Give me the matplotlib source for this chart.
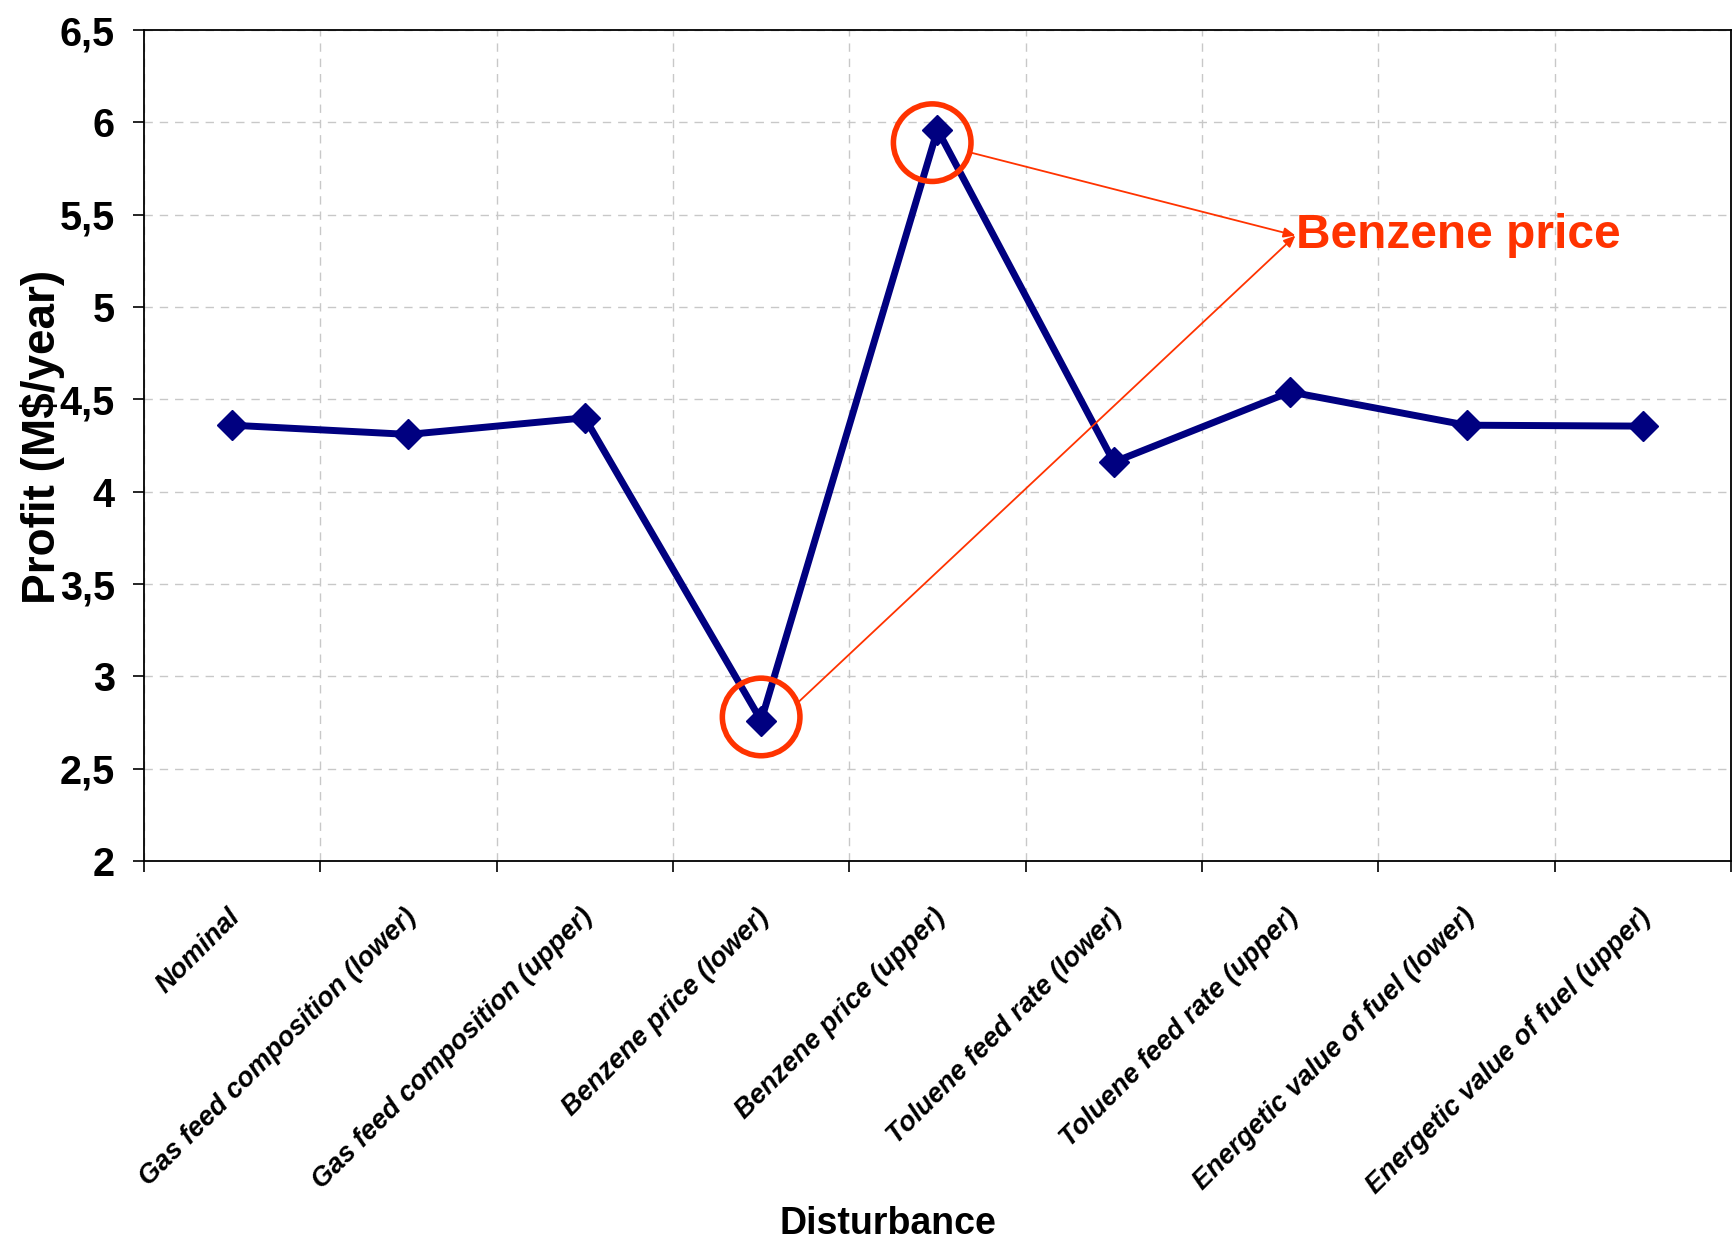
import matplotlib
matplotlib.use("Agg")
import matplotlib.pyplot as plt
import matplotlib.transforms as mtransforms
from matplotlib.patches import Ellipse
from matplotlib.ticker import FixedLocator, FuncFormatter

categories = ["Nominal", "Gas feed composition (lower)", "Gas feed composition (upper)",
              "Benzene price (lower)", "Benzene price (upper)", "Toluene feed rate (lower)",
              "Toluene feed rate (upper)", "Energetic value of fuel (lower)",
              "Energetic value of fuel (upper)"]
profit = [4.36, 4.31, 4.40, 2.76, 5.96, 4.16, 4.54, 4.36, 4.355]
y_ticks = [2, 2.5, 3, 3.5, 4, 4.5, 5, 5.5, 6, 6.5]
highlight_idx = [3, 4]
annotation_text = "Benzene price"

NAVY = "#000080"
RED = "#FF3300"
FONT = "Liberation Sans"

fig = plt.figure(figsize=(17.34, 12.46), dpi=100)
ax = fig.add_axes([0.0830, 0.3090, 0.9153, 0.6669])

n = len(categories)
x = list(range(n))
ax.plot(x, profit, color=NAVY, lw=5.0, marker="D", ms=15, mfc=NAVY, mec=NAVY, zorder=3)

ax.set_xlim(-0.5, n - 0.5)
ax.set_ylim(y_ticks[0], y_ticks[-1])

# boundaries as major ticks (with grid), category centres as minor ticks carrying labels
ax.xaxis.set_major_locator(FixedLocator([i - 0.5 for i in range(n + 1)]))
ax.xaxis.set_minor_locator(FixedLocator(x))
ax.set_xticklabels([""] * (n + 1))
ax.set_xticklabels(categories, minor=True, rotation=45, ha="right", va="top",
                   rotation_mode="anchor", fontsize=19.5, fontweight="bold",
                   fontstyle="italic", family=FONT)
ax.tick_params(axis="x", which="minor", length=0, pad=31)
ax.tick_params(axis="x", which="major", direction="out", length=8, width=1.2, color="black")
shift = mtransforms.ScaledTranslation(-5 / 100, 0, fig.dpi_scale_trans)
for lab in ax.xaxis.get_minorticklabels():
    lab.set_transform(lab.get_transform() + shift)

ax.set_yticks(y_ticks)
ax.yaxis.set_major_formatter(FuncFormatter(lambda v, p: ("%g" % v).replace(".", ",")))
ax.tick_params(axis="y", direction="out", length=8, width=1.2, pad=13)
for lab in ax.get_yticklabels():
    lab.set_fontsize(28.5)
    lab.set_fontweight("bold")
    lab.set_family(FONT)

ax.grid(True, which="major", color="#c8c8c8", linestyle=(0, (6, 5)), linewidth=1.0)
ax.set_axisbelow(True)
for s in ax.spines.values():
    s.set_linewidth(1.3)
    s.set_color("black")

ax.set_ylabel("Profit (M$/year)", fontsize=33, fontweight="bold", family=FONT)
ax.yaxis.set_label_coords(-0.050, 0.51)
ax.set_xlabel("Disturbance", fontsize=27, fontweight="bold", family=FONT)
ax.xaxis.set_label_coords(0.469, -0.415)

# circles around the benzene price points
circle_offsets = [0.02, -0.07]
circle_dx = [0.0, -0.03]
for k, idx in enumerate(highlight_idx):
    e = Ellipse((idx + circle_dx[k], profit[idx] + circle_offsets[k]), width=0.44, height=0.42,
                fill=False, edgecolor=RED, lw=4.0, zorder=4)
    ax.add_patch(e)

# annotation text and arrows
tip = (6.03, 5.387)
ax.text(tip[0] + 0.005, tip[1], annotation_text, color=RED, fontsize=34.5, fontweight="bold",
        family=FONT, ha="left", va="center", zorder=5)
starts = [(3.213, 2.862), (4.19, 5.836)]
for st in starts:
    ax.annotate("", xy=tip, xytext=st,
                arrowprops=dict(arrowstyle="-|>,head_length=0.7,head_width=0.3", color=RED,
                                lw=1.3, shrinkA=0, shrinkB=0), zorder=5)

fig.savefig("out.png", dpi=100)
